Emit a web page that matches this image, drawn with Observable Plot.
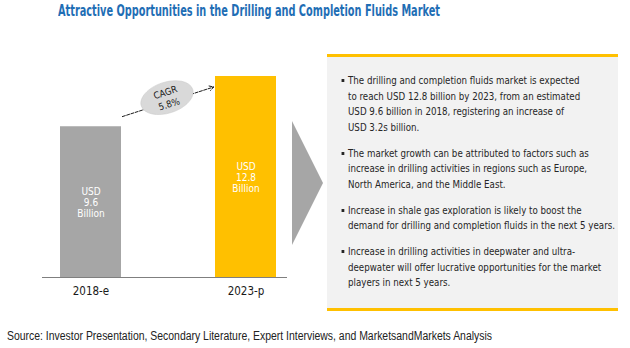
<!DOCTYPE html>
<html><head><meta charset="utf-8">
<script src="https://cdn.jsdelivr.net/npm/d3@7"></script>
<script src="https://cdn.jsdelivr.net/npm/@observablehq/plot@0.6"></script>
<style>
body{margin:0;background:#fff;}
#wrap{position:relative;width:630px;height:348px;overflow:hidden;font-family:"Liberation Sans Narrow","DejaVu Sans Condensed","Liberation Sans",sans-serif;}
#title{position:absolute;left:58px;top:2px;font-size:15px;line-height:18px;font-weight:bold;color:#1F6EB5;white-space:nowrap;transform-origin:0 0;}
#chart{position:absolute;left:0;top:0;}
#chev{position:absolute;left:292px;top:121px;width:31px;height:124px;background:#A6A6A6;clip-path:polygon(0 0,100% 50%,0 100%);}
#box{position:absolute;left:327px;top:54px;width:291px;height:257px;box-sizing:border-box;background:#F2F2F2;border-top:3px solid #FFC000;border-bottom:3px solid #FFC000;color:#262626;}
#inner{position:absolute;left:21px;top:16px;transform-origin:0 0;}
.bl{position:relative;font-size:10.5px;line-height:15.5px;margin-bottom:10.5px;white-space:nowrap;}
.mk{position:absolute;left:-7px;top:6px;width:3px;height:3px;background:#262626;}
#source{position:absolute;left:7px;top:329px;font-size:12.5px;line-height:15px;color:#222;white-space:nowrap;transform-origin:0 0;font-family:"Liberation Sans","DejaVu Sans Condensed",sans-serif;}
</style></head>
<body>
<div id="wrap">
  <div id="title"></div>
  <div id="chart"></div>
  <div id="chev"></div>
  <div id="box"><div id="inner"></div></div>
  <div id="source"></div>
</div>
<script>
const FONT = '"Liberation Sans Narrow","DejaVu Sans Condensed","Liberation Sans",sans-serif';
const titleText = "Attractive Opportunities in the Drilling and Completion Fluids Market";
const sourceText = "Source: Investor Presentation, Secondary Literature, Expert Interviews, and MarketsandMarkets Analysis";
const categories = ["2018-e", "2023-p"];
const values = [9.6, 12.8];
const barLabels = ["USD\n9.6\nBillion", "USD\n12.8\nBillion"];
const barColors = ["#A6A6A6", "#FFC000"];
const cagrLabel = "CAGR\n5.8%";
const bullets = [
  ["The drilling and completion fluids market is expected", "to reach USD 12.8 billion by 2023, from an estimated", "USD 9.6 billion in 2018, registering an increase of", "USD 3.2s billion."],
  ["The market growth can be attributed to factors such as", "increase in drilling activities in regions such as Europe,", "North America, and the Middle East."],
  ["Increase in shale gas exploration is likely to boost the", "demand for drilling and completion fluids in the next 5 years."],
  ["Increase in drilling activities in deepwater and ultra-", "deepwater will offer lucrative opportunities for the market", "players in next 5 years."]
];

const rows = categories.map((c, i) => ({cat: c, value: values[i], label: barLabels[i]}));
const growth = {from: categories[0], to: categories[1], v1: values[0], v2: values[1], label: cagrLabel};

const ellipse = {
  draw(ctx, size) {
    const r = Math.sqrt(size / Math.PI), rx = r, ry = r * 0.574, k = 0.5523;
    ctx.moveTo(rx, 0);
    ctx.bezierCurveTo(rx, k * ry, k * rx, ry, 0, ry);
    ctx.bezierCurveTo(-k * rx, ry, -rx, k * ry, -rx, 0);
    ctx.bezierCurveTo(-rx, -k * ry, -k * rx, -ry, 0, -ry);
    ctx.bezierCurveTo(k * rx, -ry, rx, -k * ry, rx, 0);
    ctx.closePath();
  }
};

const chart = Plot.plot({
  width: 300, height: 300,
  marginLeft: 42, marginRight: 13, marginTop: 76, marginBottom: 23,
  style: {fontFamily: FONT, fontSize: "11.5px", color: "#1a1a1a", background: "transparent", overflow: "visible"},
  x: {domain: categories, paddingInner: 0.6065, paddingOuter: 0.0935, align: 0.62, label: null, tickSize: 0, tickPadding: 9},
  y: {domain: [0, d3.max(values)], axis: null},
  color: {domain: categories, range: barColors},
  marks: [
    Plot.barY(rows, {x: "cat", y: "value", fill: "cat"}),
    Plot.ruleY([0], {stroke: "#7f7f7f", strokeWidth: 1}),
    Plot.text(rows, {x: "cat", y: d => d.value / 2, text: "label", fill: "white", fontSize: 10, lineHeight: 1.1}),
    Plot.arrow([growth], {x1: "from", y1: "v1", x2: "to", y2: "v2", stroke: "#1a1a1a", strokeWidth: 1, headLength: 7, insetStart: 33, insetEnd: 34, strokeDasharray: "3,1.5"}),
    Plot.dot([growth], {x: "from", y: d => (d.v1 + d.v2) / 2, dx: 76, dy: -4, r: 27, symbol: ellipse, fill: "#D9D9D9", stroke: "#C8C8C8", strokeWidth: 0.5, rotate: -18}),
    Plot.text([growth], {x: "from", y: d => (d.v1 + d.v2) / 2, dx: 76, dy: -4, text: "label", rotate: -18, fontSize: 9.5, fill: "#1a1a1a", lineHeight: 1.3})
  ]
});
document.getElementById("chart").appendChild(chart);

const t = document.getElementById("title");
t.textContent = titleText;
const s = document.getElementById("source");
s.textContent = sourceText;
const inner = document.getElementById("inner");
for (const b of bullets) {
  const d = document.createElement("div");
  d.className = "bl";
  const mk = document.createElement("span");
  mk.className = "mk";
  d.appendChild(mk);
  b.forEach((l, i) => {
    if (i) d.appendChild(document.createElement("br"));
    d.appendChild(document.createTextNode(l));
  });
  inner.appendChild(d);
}
function fit(el, w) {
  const m = el.getBoundingClientRect().width;
  if (m > 0) el.style.transform = `scaleX(${w / m})`;
}
fit(t, 382);
fit(s, 485);
fit(inner, 267);
</script>
</body></html>
